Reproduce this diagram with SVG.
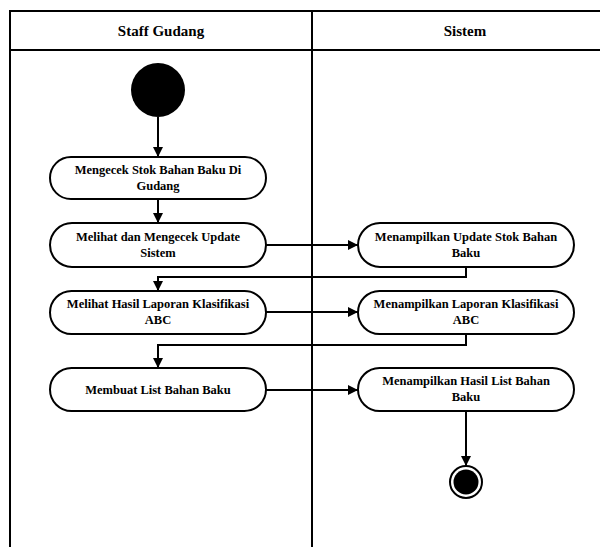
<svg xmlns="http://www.w3.org/2000/svg" width="600" height="547" viewBox="0 0 600 547">
<style>
.lane{fill:none;stroke:#000;stroke-width:2}
.node rect{fill:#fff;stroke:#000;stroke-width:2}
.node text,.hdr{font-family:'Liberation Serif','DejaVu Serif',serif;font-weight:bold;fill:#000;text-anchor:middle}
.node text{font-size:12.5px}
.hdr{font-size:15px}
.conn path{fill:none;stroke:#000;stroke-width:2;marker-end:url(#ah)}
</style>
<defs>
<marker id="ah" viewBox="0 0 10 10" refX="10" refY="5" markerWidth="5" markerHeight="5" orient="auto" markerUnits="strokeWidth">
<path d="M0,0 L10,5 L0,10 z" fill="#000"/>
</marker>
</defs>
<rect width="600" height="547" fill="#fff"/>
<g id="lanes">
<path class="lane" d="M10,548 V11 H601 M10,50 H601 M312,11 V548"/>
<text class="hdr" x="161" y="36" font-family="Liberation Serif">Staff Gudang</text>
<text class="hdr" x="465" y="36" font-family="Liberation Serif">Sistem</text>
</g>
<g id="start"><circle cx="158" cy="90" r="27" fill="#000"/></g>
<g id="n1" class="node"><rect x="50" y="157" width="216" height="42" rx="21"/><text x="158" y="174">Mengecek Stok Bahan Baku Di</text><text x="158" y="190">Gudang</text></g>
<g id="n2" class="node"><rect x="50" y="223" width="216" height="44" rx="22"/><text x="158" y="241">Melihat dan Mengecek Update</text><text x="158" y="257">Sistem</text></g>
<g id="n3" class="node"><rect x="358" y="223" width="216" height="44" rx="22"/><text x="466" y="241">Menampilkan Update Stok Bahan</text><text x="466" y="257">Baku</text></g>
<g id="n4" class="node"><rect x="50" y="291" width="216" height="43" rx="21.5"/><text x="158" y="308">Melihat Hasil Laporan Klasifikasi</text><text x="158" y="324">ABC</text></g>
<g id="n5" class="node"><rect x="358" y="291" width="216" height="43" rx="21.5"/><text x="466" y="308">Menampilkan Laporan Klasifikasi</text><text x="466" y="324">ABC</text></g>
<g id="n6" class="node"><rect x="50" y="368" width="216" height="43" rx="21.5"/><text x="158" y="394">Membuat List Bahan Baku</text></g>
<g id="n7" class="node"><rect x="358" y="368" width="216" height="43" rx="21.5"/><text x="466" y="385">Menampilkan Hasil List Bahan</text><text x="466" y="401">Baku</text></g>
<g id="end"><circle cx="466" cy="482" r="16" fill="#fff" stroke="#000" stroke-width="2"/><circle cx="466" cy="482" r="12.5" fill="#000"/></g>
<g id="connectors" class="conn">
<path d="M158,117 V157"/>
<path d="M158,199 V223"/>
<path d="M266,245 H358"/>
<path d="M466,267 V277 H158 V291"/>
<path d="M266,312 H358"/>
<path d="M466,334 V345 H158 V368"/>
<path d="M266,390 H358"/>
<path d="M466,411 V466"/>
</g>
</svg>
